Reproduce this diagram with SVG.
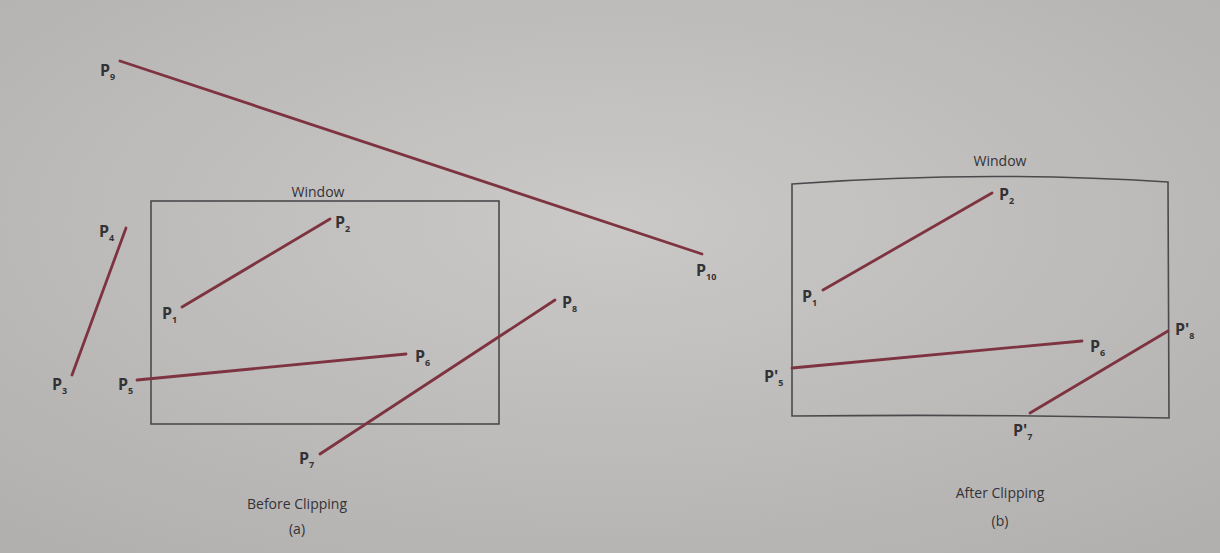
<svg xmlns="http://www.w3.org/2000/svg" width="1220" height="553" viewBox="0 0 1220 553">
<defs>
<radialGradient id="bg" cx="50%" cy="40%" r="75%">
<stop offset="0" stop-color="#cbc9c8"/>
<stop offset="1" stop-color="#b2b0af"/>
</radialGradient>
<style>
.win{fill:none;stroke:#4a4a4c;stroke-width:1.6}
.seg{stroke:#7e3440;stroke-width:2.8;stroke-linecap:round;fill:none}
.lbl{font-family:"Open Sans","Liberation Sans",sans-serif;font-size:16px;font-weight:bold;fill:#333235}
.sub{font-size:9px}
.cap{font-family:"Open Sans","Liberation Sans",sans-serif;font-size:14px;fill:#333235;text-anchor:middle}
</style>
</defs>
<rect x="0" y="0" width="1220" height="553" fill="url(#bg)"/>
<g id="panel-a">
<g id="window-a"><rect class="win" x="151" y="201" width="348" height="223"/><text class="cap" x="318" y="197" font-size="15">Window</text></g>
<g id="caption-a"><text class="cap" x="297" y="509">Before Clipping</text><text class="cap" x="297" y="534">(a)</text></g>
</g>
<g id="panel-b">
<g id="window-b"><path class="win" d="M792,184 Q980,170 1168,182 L1169,418 Q980,414 792,416 Z"/><text class="cap" x="1000" y="166" font-size="15">Window</text></g>
<g id="caption-b"><text class="cap" x="1000" y="498">After Clipping</text><text class="cap" x="1000" y="526">(b)</text></g>
</g>
<g id="connectors">
<line class="seg" x1="120" y1="61" x2="702" y2="254"/>
<line class="seg" x1="72" y1="375" x2="126" y2="228"/>
<line class="seg" x1="182" y1="307" x2="330" y2="219"/>
<line class="seg" x1="137" y1="380" x2="406" y2="354"/>
<line class="seg" x1="320" y1="454" x2="555" y2="300"/>
<line class="seg" x1="823" y1="290" x2="992" y2="193"/>
<line class="seg" x1="792" y1="368" x2="1082" y2="341"/>
<line class="seg" x1="1030" y1="413" x2="1168" y2="331"/>
</g>
<g id="labels-a">
<g id="P9"><text class="lbl" x="100" y="76">P<tspan class="sub" dy="4">9</tspan></text></g>
<g id="P10"><text class="lbl" x="696" y="276">P<tspan class="sub" dy="4">10</tspan></text></g>
<g id="P4"><text class="lbl" x="99" y="237">P<tspan class="sub" dy="4">4</tspan></text></g>
<g id="P3"><text class="lbl" x="52" y="390">P<tspan class="sub" dy="4">3</tspan></text></g>
<g id="P1"><text class="lbl" x="162" y="319">P<tspan class="sub" dy="4">1</tspan></text></g>
<g id="P2"><text class="lbl" x="335" y="228">P<tspan class="sub" dy="4">2</tspan></text></g>
<g id="P5"><text class="lbl" x="118" y="390">P<tspan class="sub" dy="4">5</tspan></text></g>
<g id="P6"><text class="lbl" x="415" y="362">P<tspan class="sub" dy="4">6</tspan></text></g>
<g id="P7"><text class="lbl" x="299" y="464">P<tspan class="sub" dy="4">7</tspan></text></g>
<g id="P8"><text class="lbl" x="562" y="308">P<tspan class="sub" dy="4">8</tspan></text></g>
</g>
<g id="labels-b">
<g id="P1b"><text class="lbl" x="802" y="302">P<tspan class="sub" dy="4">1</tspan></text></g>
<g id="P2b"><text class="lbl" x="999" y="200">P<tspan class="sub" dy="4">2</tspan></text></g>
<g id="P5b"><text class="lbl" x="764" y="382">P'<tspan class="sub" dy="4">5</tspan></text></g>
<g id="P6b"><text class="lbl" x="1090" y="352">P<tspan class="sub" dy="4">6</tspan></text></g>
<g id="P7b"><text class="lbl" x="1013" y="436">P'<tspan class="sub" dy="4">7</tspan></text></g>
<g id="P8b"><text class="lbl" x="1175" y="335">P'<tspan class="sub" dy="4">8</tspan></text></g>
</g>
</svg>
